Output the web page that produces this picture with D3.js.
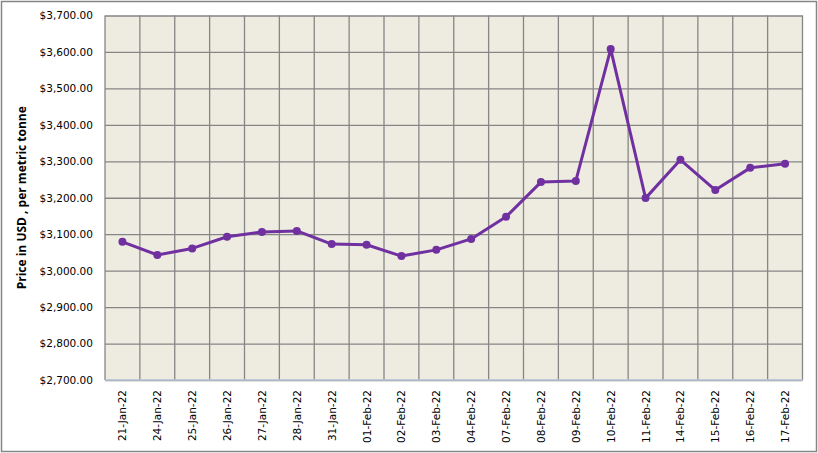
<!DOCTYPE html>
<html>
<head>
<meta charset="utf-8">
<script src="https://cdn.jsdelivr.net/npm/d3@7"></script>
<style>
  body { margin: 0; background: #fff; }
  svg { display: block; }
</style>
</head>
<body>
<div id="chart"></div>
<script>
// dates shown on the x axis
var dates = ["21-Jan-22", "24-Jan-22", "25-Jan-22", "26-Jan-22", "27-Jan-22", "28-Jan-22",
             "31-Jan-22", "01-Feb-22", "02-Feb-22", "03-Feb-22", "04-Feb-22", "07-Feb-22",
             "08-Feb-22", "09-Feb-22", "10-Feb-22", "11-Feb-22", "14-Feb-22", "15-Feb-22",
             "16-Feb-22", "17-Feb-22"];

// price in USD per metric tonne
var prices = [3079, 3043, 3061, 3093, 3106, 3109,
              3073, 3071, 3040, 3057, 3087, 3148,
              3243, 3246, 3608, 3199, 3304, 3221,
              3282, 3293];

var yTicks = [2700, 2800, 2900, 3000, 3100, 3200, 3300, 3400, 3500, 3600, 3700];

var width = 818, height = 453;
var margin = {top: 15.5, right: 15.5, bottom: 73, left: 105};

var svg = d3.select("#chart").append("svg")
    .attr("width", width)
    .attr("height", height);

// outer chart border
svg.append("rect")
    .attr("x", 1.5).attr("y", 1.5)
    .attr("width", width - 3).attr("height", height - 3)
    .style("fill", "#fff")
    .style("stroke", "#868686")
    .style("stroke-width", 1.5);

var x = d3.scaleBand()
    .domain(dates)
    .range([margin.left, width - margin.right]);

var y = d3.scaleLinear()
    .domain([2700, 3700])
    .range([height - margin.bottom, margin.top]);

// plot background
svg.append("rect")
    .attr("x", margin.left).attr("y", margin.top)
    .attr("width", width - margin.left - margin.right)
    .attr("height", height - margin.top - margin.bottom)
    .style("fill", "#EEECE1");

// horizontal gridlines + y labels
var yAxis = d3.axisLeft(y)
    .tickValues(yTicks)
    .tickSize(-(width - margin.left - margin.right))
    .tickPadding(12)
    .tickFormat(function(d){ return "$" + d3.format(",.2f")(d); });

var gy = svg.append("g")
    .attr("transform", "translate(" + margin.left + ",0)")
    .call(yAxis);
gy.select(".domain").remove();
gy.selectAll("line").style("stroke", "#868686").style("stroke-width", 1.3);
gy.selectAll("text")
    .style("font-family", "Tahoma, 'DejaVu Sans', sans-serif")
    .style("font-size", "10.5px")
    .style("fill", "#000");

// vertical gridlines between categories
var edges = dates.map(function(d){ return x(d); }).concat([x.range()[1]]);
svg.append("g").selectAll("line")
    .data(edges)
    .enter().append("line")
    .attr("x1", function(d){ return d; })
    .attr("x2", function(d){ return d; })
    .attr("y1", y(3700))
    .attr("y2", y(2700))
    .style("stroke", "#868686")
    .style("stroke-width", 1.3);

// bottom axis line
svg.append("line")
    .attr("x1", margin.left).attr("x2", width - margin.right)
    .attr("y1", y(2700)).attr("y2", y(2700))
    .style("stroke", "#B9C7DC")
    .style("stroke-width", 1.5);

// x labels, rotated
svg.append("g").selectAll("text")
    .data(dates)
    .enter().append("text")
    .attr("transform", function(d){
        return "translate(" + (x(d) + x.bandwidth() / 2 + 4) + "," + (y(2700) + 10) + ") rotate(-90)";
    })
    .attr("text-anchor", "end")
    .text(function(d){ return d; })
    .style("font-family", "Tahoma, 'DejaVu Sans', sans-serif")
    .style("font-size", "10.5px")
    .style("fill", "#000");

// y axis title
svg.append("text")
    .attr("transform", "translate(26," + ((margin.top + y(2700)) / 2) + ") rotate(-90)")
    .attr("text-anchor", "middle")
    .text("Price in USD , per metric tonne")
    .style("font-family", "'Open Sans', 'DejaVu Sans', sans-serif")
    .style("font-weight", "bold")
    .style("font-size", "12px")
    .style("fill", "#000");

// price line
var line = d3.line()
    .x(function(d, i){ return x(dates[i]) + x.bandwidth() / 2; })
    .y(function(d){ return y(d); });

svg.append("path")
    .datum(prices)
    .attr("d", line)
    .style("fill", "none")
    .style("stroke", "#7030A0")
    .style("stroke-width", 3)
    .style("stroke-linejoin", "round");

svg.append("g").selectAll("circle")
    .data(prices)
    .enter().append("circle")
    .attr("cx", function(d, i){ return x(dates[i]) + x.bandwidth() / 2; })
    .attr("cy", function(d){ return y(d); })
    .attr("r", 4)
    .style("fill", "#7030A0");
</script>
</body>
</html>
